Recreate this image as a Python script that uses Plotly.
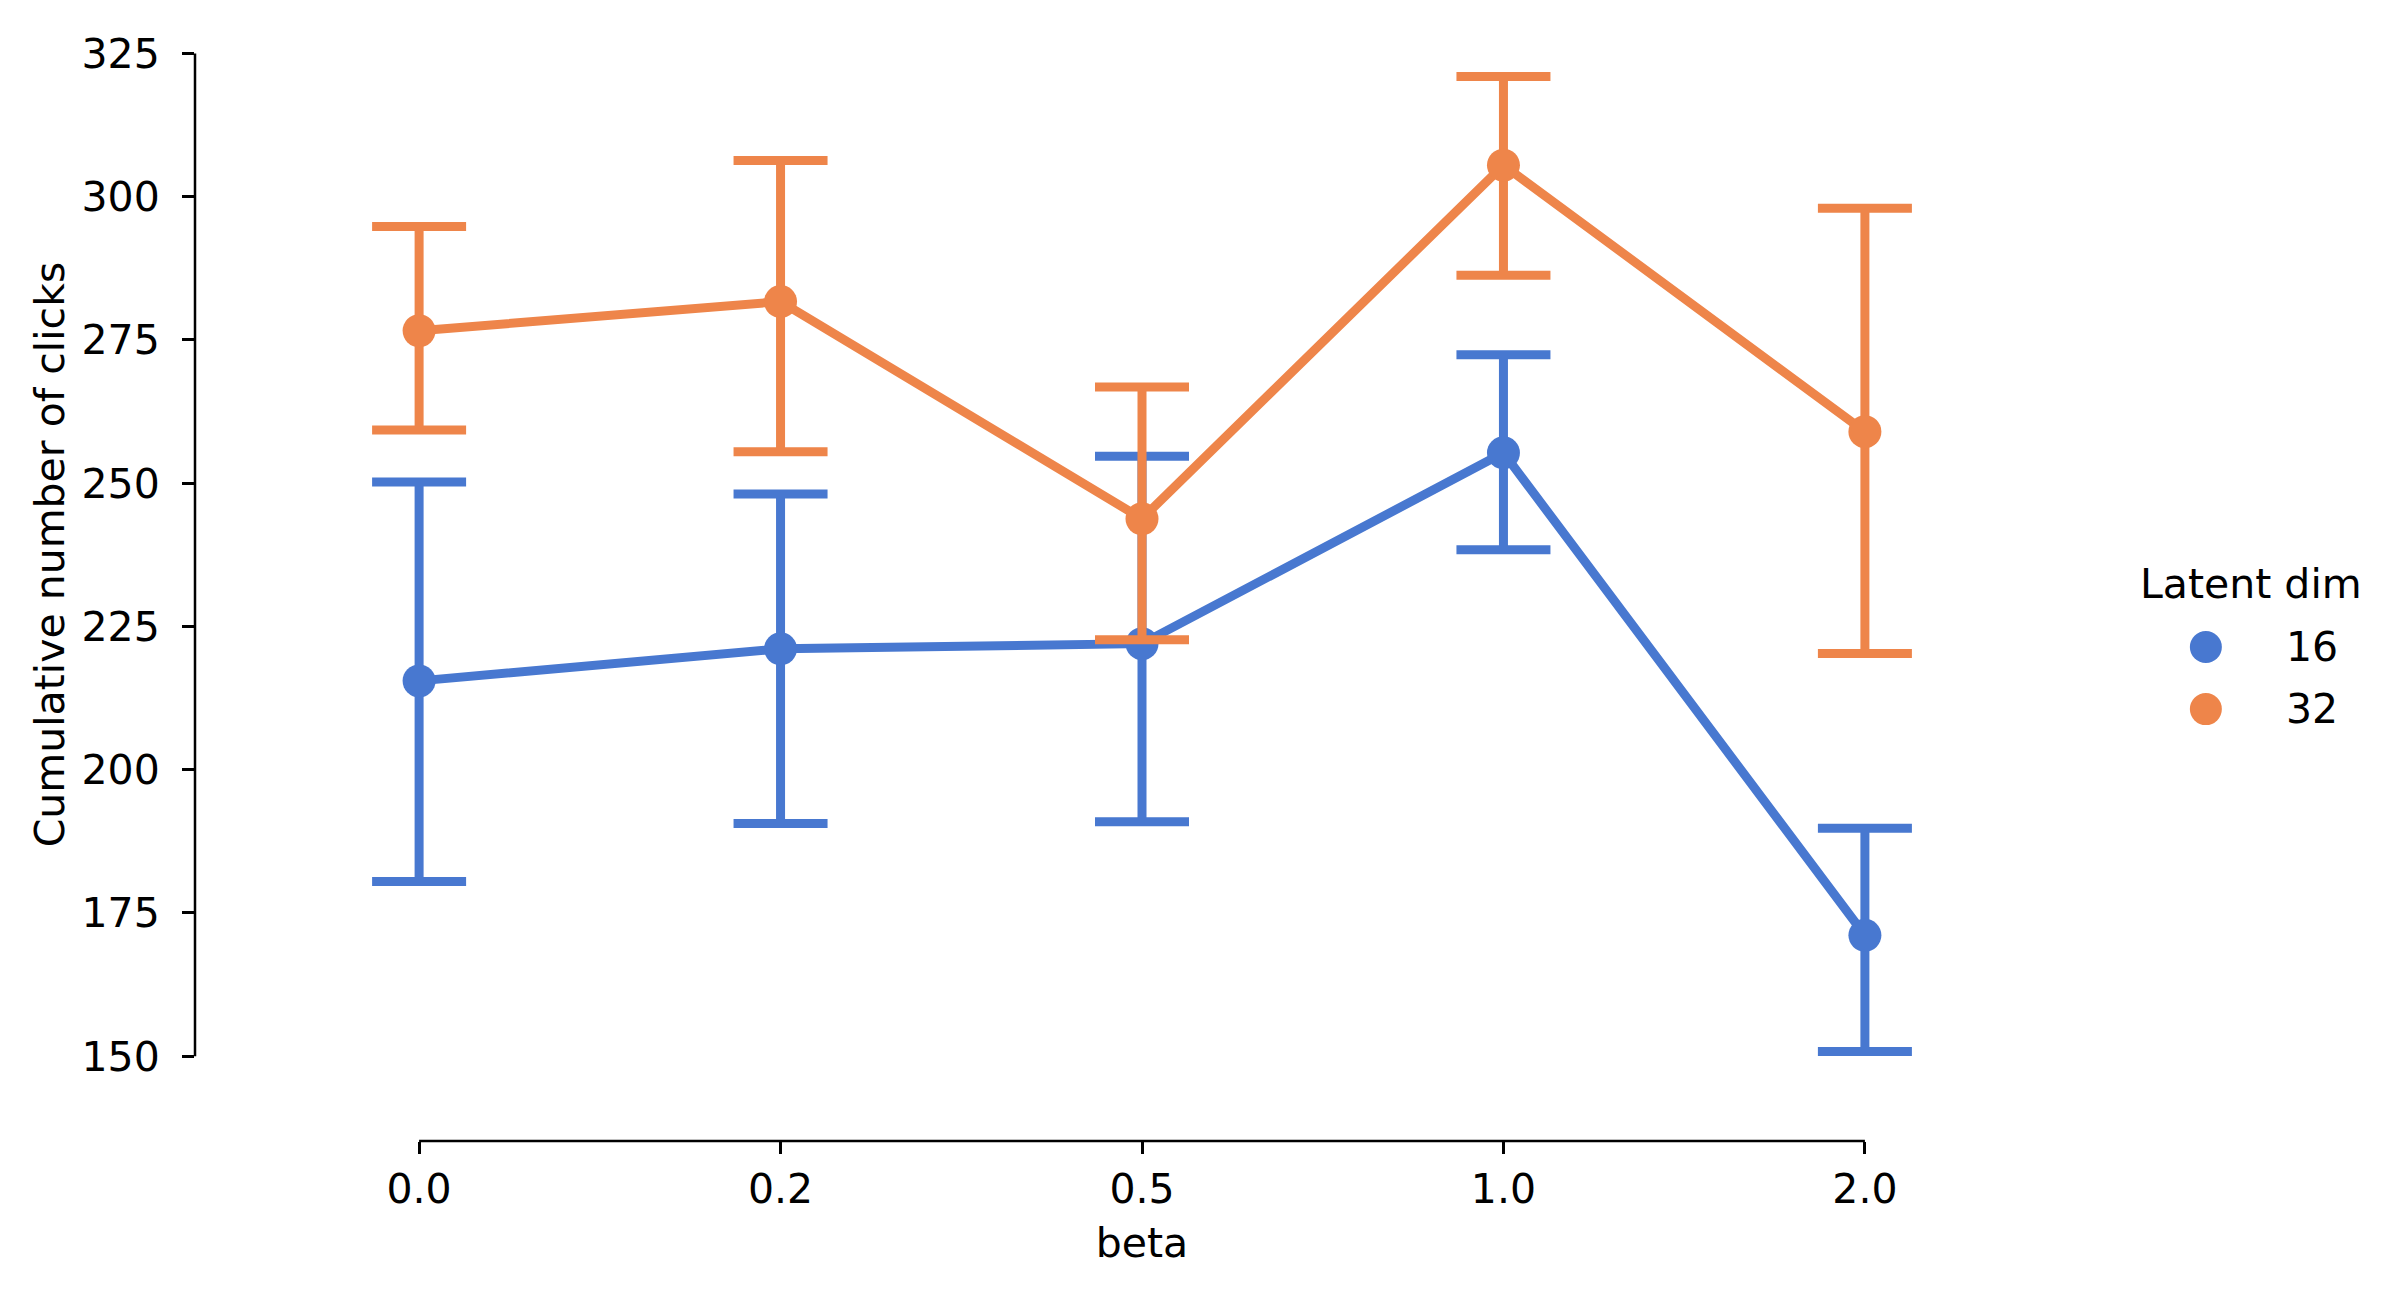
import plotly.graph_objects as go

# values
betas = ["0.0", "0.2", "0.5", "1.0", "2.0"]
dims = ["16", "32"]
colors = ["#4878d0", "#ee854a"]

mean_16 = [215.5, 221.1, 222.0, 255.3, 171.1]
hi_16 = [250.2, 248.1, 254.7, 272.4, 189.8]
lo_16 = [180.5, 190.6, 190.9, 238.4, 150.8]

mean_32 = [276.6, 281.7, 243.8, 305.5, 259.0]
hi_32 = [294.8, 306.3, 266.8, 321.0, 298.0]
lo_32 = [259.3, 255.5, 222.7, 286.3, 220.3]

means = [mean_16, mean_32]
his = [hi_16, hi_32]
los = [lo_16, lo_32]

FONT = "DejaVu Sans"
FS = 41
xs = list(range(len(betas)))

fig = go.Figure()
for d, c, m, hi, lo in zip(dims, colors, means, his, los):
    fig.add_trace(go.Scatter(
        x=xs, y=m, mode="lines+markers", name=d, showlegend=False,
        line=dict(color=c, width=9),
        marker=dict(color=c, size=33),
        error_y=dict(type="data", symmetric=False,
                     array=[h - v for h, v in zip(hi, m)],
                     arrayminus=[v - l for v, l in zip(m, lo)],
                     color=c, thickness=9, width=47),
    ))

# trimmed spines (seaborn despine look)
fig.add_shape(type="line", xref="paper", yref="y", x0=0, x1=0, y0=150, y1=325,
              line=dict(color="black", width=2.5))
fig.add_shape(type="line", xref="x", yref="paper", x0=0, x1=4, y0=0, y1=0,
              line=dict(color="black", width=2.5))

fig.add_annotation(text="Cumulative number of clicks", textangle=-90,
                   xref="paper", yref="y", x=-0.0768, y=237.5, showarrow=False,
                   xanchor="center", yanchor="middle",
                   font=dict(family=FONT, size=FS, color="black"))

# legend drawn by hand so the markers keep the full point size
leg_x, leg_title_y, leg_y0, leg_dy = 1.0257, 0.5066, 0.4495, 0.0565
fig.add_annotation(text="Latent dim", xref="paper", yref="paper",
                   x=leg_x, y=leg_title_y, showarrow=False,
                   xanchor="left", yanchor="middle",
                   font=dict(family=FONT, size=FS, color="black"))
for i, (d, c) in enumerate(zip(dims, colors)):
    yy = leg_y0 - i * leg_dy
    fig.add_shape(type="circle", xref="paper", yref="paper",
                  xsizemode="pixel", ysizemode="pixel",
                  xanchor=leg_x + 0.036, yanchor=yy,
                  x0=-16, x1=16, y0=-16, y1=16,
                  fillcolor=c, line=dict(color=c, width=0))
    fig.add_annotation(text=d, xref="paper", yref="paper",
                       x=leg_x + 0.077, y=yy, showarrow=False,
                       xanchor="left", yanchor="middle",
                       font=dict(family=FONT, size=FS, color="black"))

fig.update_xaxes(range=[-0.62, 4.62], tickvals=xs, ticktext=betas,
                 showgrid=False, zeroline=False, showline=False,
                 ticks="outside", ticklen=12, tickwidth=2.5, tickcolor="black",
                 tickfont=dict(family=FONT, size=FS, color="black"),
                 title=dict(text="beta", standoff=16,
                            font=dict(family=FONT, size=FS, color="black")))
fig.update_yaxes(range=[135.2, 327], tickvals=[150, 175, 200, 225, 250, 275, 300, 325],
                 showgrid=False, zeroline=False, showline=False,
                 ticks="outside", ticklen=12, tickwidth=2.5, tickcolor="black",
                 ticklabelstandoff=14,
                 tickfont=dict(family=FONT, size=FS, color="black"))

fig.update_layout(
    width=2401, height=1299,
    margin=dict(l=187, r=320, t=34, b=166),
    plot_bgcolor="white", paper_bgcolor="white",
    font=dict(family=FONT, size=FS, color="black"),
    showlegend=False,
)

fig.write_html("out.html")
